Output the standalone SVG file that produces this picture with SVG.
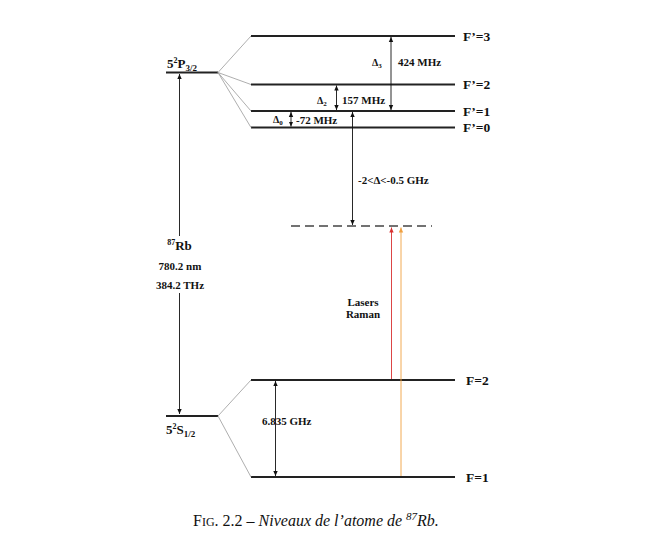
<svg xmlns="http://www.w3.org/2000/svg" width="660" height="558" viewBox="0 0 660 558">
<defs>
<marker id="ah" markerWidth="6" markerHeight="6" refX="5" refY="3" orient="auto-start-reverse" markerUnits="userSpaceOnUse">
<path d="M0,0.8 L5,3 L0,5.2 Z" fill="#111"/>
</marker>
<marker id="ahr" markerWidth="6" markerHeight="6" refX="5" refY="3" orient="auto-start-reverse" markerUnits="userSpaceOnUse">
<path d="M0,0.8 L5,3 L0,5.2 Z" fill="#d83030"/>
</marker>
<marker id="aho" markerWidth="6" markerHeight="6" refX="5" refY="3" orient="auto-start-reverse" markerUnits="userSpaceOnUse">
<path d="M0,0.8 L5,3 L0,5.2 Z" fill="#f0a040"/>
</marker>
<style>
.lvl{stroke:#222;stroke-width:2;fill:none}
.fan{stroke:#999;stroke-width:0.8;fill:none}
.arr{stroke:#111;stroke-width:0.9;fill:none}
text{font-family:"Liberation Serif","Times New Roman",serif;font-weight:bold;fill:#111}
.s{font-size:11px}
.lab{font-size:13.5px}
.cap{font-weight:normal;font-size:16px}
</style>
</defs>
<rect width="660" height="558" fill="#fff"/>

<g id="P32">
<line class="lvl" x1="166" y1="72.5" x2="218" y2="72.5"/>
<text x="167" y="68" font-size="13">5<tspan font-size="8" dy="-5">2</tspan><tspan dy="5">P</tspan><tspan font-size="9" dy="3">3/2</tspan></text>
</g>
<g id="Fp3">
<line class="lvl" x1="251" y1="36" x2="455" y2="36"/>
<text class="lab" x="463" y="40.5">F’=3</text>
</g>
<g id="Fp2">
<line class="lvl" x1="251" y1="84.5" x2="455" y2="84.5"/>
<text class="lab" x="463" y="89">F’=2</text>
</g>
<g id="Fp1">
<line class="lvl" x1="251" y1="111" x2="455" y2="111"/>
<text class="lab" x="463" y="115.5">F’=1</text>
</g>
<g id="Fp0">
<line class="lvl" x1="251" y1="127.5" x2="455" y2="127.5"/>
<text class="lab" x="463" y="132">F’=0</text>
</g>
<g id="virtual">
<line x1="291" y1="226" x2="432" y2="226" stroke="#444" stroke-width="1.6" stroke-dasharray="9,5"/>
</g>
<g id="S12">
<line class="lvl" x1="166" y1="416" x2="218" y2="416"/>
<text x="166" y="434" font-size="13">5<tspan font-size="8" dy="-5">2</tspan><tspan dy="5">S</tspan><tspan font-size="9" dy="3">1/2</tspan></text>
</g>
<g id="F2">
<line class="lvl" x1="251" y1="380" x2="455" y2="380"/>
<text class="lab" x="466" y="384.5">F=2</text>
</g>
<g id="F1">
<line class="lvl" x1="251" y1="477" x2="455" y2="477"/>
<text class="lab" x="466" y="481.5">F=1</text>
</g>

<g id="connectors">
<line class="fan" x1="218" y1="72.5" x2="251" y2="36"/>
<line class="fan" x1="218" y1="72.5" x2="251" y2="84.5"/>
<line class="fan" x1="218" y1="72.5" x2="251" y2="111"/>
<line class="fan" x1="218" y1="72.5" x2="251" y2="127.5"/>
<line class="fan" x1="218" y1="416" x2="251" y2="380"/>
<line class="fan" x1="218" y1="416" x2="251" y2="477"/>

<line class="arr" x1="179.5" y1="236" x2="179.5" y2="74" marker-end="url(#ah)"/>
<line class="arr" x1="179.5" y1="293" x2="179.5" y2="414" marker-end="url(#ah)"/>

<line class="arr" x1="391" y1="37" x2="391" y2="110" marker-start="url(#ah)" marker-end="url(#ah)"/>
<line class="arr" x1="336.5" y1="85.5" x2="336.5" y2="110" marker-start="url(#ah)" marker-end="url(#ah)"/>
<line class="arr" x1="291" y1="112" x2="291" y2="126.5" marker-start="url(#ah)" marker-end="url(#ah)"/>
<line class="arr" x1="352.5" y1="112" x2="352.5" y2="225" marker-start="url(#ah)" marker-end="url(#ah)"/>
<line class="arr" x1="275.5" y1="381" x2="275.5" y2="476" marker-start="url(#ah)" marker-end="url(#ah)"/>

<line x1="391.5" y1="379" x2="391.5" y2="227.5" stroke="#d83030" stroke-width="0.9" marker-end="url(#ahr)"/>
<line x1="401" y1="476" x2="401" y2="227.5" stroke="#f0a040" stroke-width="0.9" marker-end="url(#aho)"/>
</g>

<g id="labels">
<text x="372" y="66" font-size="10">Δ<tspan font-size="7" dy="2">3</tspan></text>
<text class="s" x="398" y="66">424 MHz</text>
<text x="317" y="104" font-size="10">Δ<tspan font-size="7" dy="2">2</tspan></text>
<text class="s" x="342" y="104">157 MHz</text>
<text x="273" y="123" font-size="10">Δ<tspan font-size="7" dy="2">0</tspan></text>
<text class="s" x="296" y="123.5">-72 MHz</text>
<text class="s" x="358" y="183.5">-2&lt;Δ&lt;-0.5 GHz</text>
<text class="s" x="363" y="306" text-anchor="middle">Lasers</text>
<text class="s" x="363" y="318" text-anchor="middle">Raman</text>
<text x="179.5" y="250" text-anchor="middle" font-size="13"><tspan font-size="8" dy="-5">87</tspan><tspan dy="5">Rb</tspan></text>
<text class="s" x="180" y="270" text-anchor="middle">780.2 nm</text>
<text class="s" x="180" y="289" text-anchor="middle">384.2 THz</text>
<text class="s" x="262" y="425">6.835 GHz</text>
<text class="cap" x="193" y="526">F<tspan font-size="12">IG</tspan>. 2.2 – <tspan font-style="italic">Niveaux de l’atome de <tspan font-size="11" dy="-6">87</tspan><tspan dy="6">Rb.</tspan></tspan></text>
</g>
</svg>
